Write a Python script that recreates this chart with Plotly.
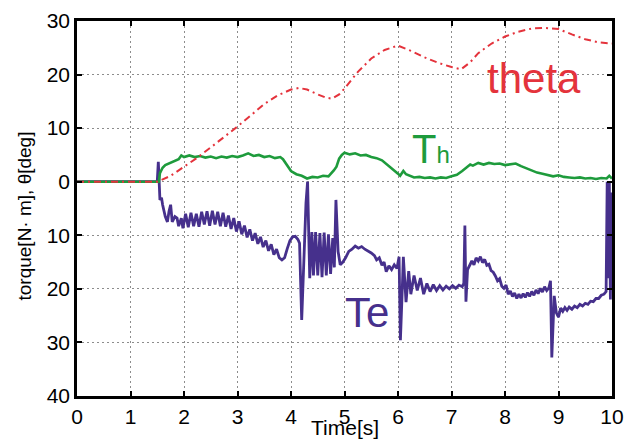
import plotly.graph_objects as go

# ---- data ----
te_t = [0, 1.5, 1.52, 1.535, 1.55, 1.58, 1.6, 1.65, 1.69, 1.72, 1.75, 1.78, 1.83, 1.87, 1.9, 1.95, 1.98,
        2.03, 2.08, 2.13, 2.18, 2.23, 2.28, 2.33, 2.38, 2.43, 2.48, 2.53, 2.58, 2.63, 2.68, 2.73, 2.78,
        2.83, 2.88, 2.93, 2.98, 3.03, 3.08, 3.13, 3.18, 3.23, 3.28, 3.33, 3.38, 3.43, 3.48, 3.53, 3.58,
        3.63, 3.68, 3.73, 3.78, 3.83, 3.88, 3.93, 3.98, 4.03, 4.08, 4.13, 4.16, 4.2, 4.24, 4.28, 4.31,
        4.33, 4.35, 4.39, 4.42, 4.46, 4.5, 4.54, 4.58, 4.62, 4.66, 4.7, 4.74, 4.78, 4.81, 4.84, 4.88,
        4.92, 4.97, 5.02, 5.08, 5.14, 5.2, 5.26, 5.32, 5.38, 5.44, 5.5, 5.56, 5.6, 5.65, 5.7, 5.74,
        5.78, 5.83, 5.88, 5.93, 5.98, 6.02, 6.045, 6.08, 6.1, 6.15, 6.2, 6.24, 6.3, 6.36, 6.42, 6.48,
        6.54, 6.6, 6.66, 6.72, 6.78, 6.84, 6.9, 6.96, 7.02, 7.08, 7.14, 7.2, 7.23, 7.25, 7.27, 7.3,
        7.34, 7.38, 7.42, 7.46, 7.5, 7.54, 7.58, 7.62, 7.66, 7.7, 7.74, 7.78, 7.82, 7.86, 7.9, 7.94,
        7.98, 8.02, 8.06, 8.1, 8.14, 8.18, 8.22, 8.26, 8.3, 8.34, 8.38, 8.42, 8.46, 8.5, 8.54, 8.58,
        8.62, 8.66, 8.7, 8.74, 8.78, 8.82, 8.85, 8.875, 8.92, 8.96, 9.0, 9.04, 9.08, 9.12, 9.16, 9.2,
        9.25, 9.3, 9.35, 9.4, 9.45, 9.5, 9.55, 9.6, 9.65, 9.7, 9.75, 9.8, 9.85, 9.89, 9.91, 9.93,
        9.95, 9.97, 9.99, 10.0]
te_v = [0, 0, 3.7, -1, -3.4, -3, -4.3, -6.5, -7.5, -5.5, -4.3, -7.5, -6.5, -6.8, -8.3, -6.8, -8.7,
        -6.0, -8.5, -5.8, -8.3, -6.0, -8.4, -5.6, -8.0, -5.5, -8.2, -5.4, -8.0, -5.6, -8.3, -5.8, -8.4,
        -6.3, -8.8, -6.8, -9.3, -7.4, -9.8, -8.2, -10.4, -8.9, -11.0, -9.6, -11.6, -10.3, -12.2, -11.0, -12.9,
        -11.7, -13.6, -12.6, -14.2, -14.6, -14.2, -12.5, -11.0, -10.3, -10.2, -10.8, -11.5, -25.8, -14, -4, 0,
        -8, -18, -9.4, -17.5, -9.4, -17.5, -9.6, -17.8, -9.5, -17.5, -9.8, -17.2, -10.5, -16, -3.4, -13,
        -15.5, -15.0, -14.2, -13.0, -12.6, -12.0, -12.4, -12.1, -12.6, -12.9, -13.3, -13.8, -14.6, -14.2, -15.6, -15.0,
        -16.8, -15.7, -16.4, -15.5, -16.2, -14, -29.6, -20, -14, -22.5, -16.7, -21, -17.5, -20.3, -18, -21,
        -19, -20.5, -19.2, -20.3, -19.4, -20.2, -19.5, -20.0, -19.4, -19.9, -19.3, -19.6, -19.0, -8.2, -22.4, -16.4,
        -15.6, -14.8, -15.5, -14.2, -14.8, -14.0, -15.1, -14.5, -15.6, -15.4, -16.6, -16.9, -17.6, -18.5, -18.1, -19.5,
        -19.9, -19.3, -21.0, -20.4, -21.4, -20.8, -21.8, -21.0, -21.7, -20.9, -21.6, -20.7, -21.4, -20.5, -21.2, -20.2,
        -20.9, -19.9, -20.6, -19.6, -20.3, -19.8, -18.5, -32.8, -21.3, -24.5, -25.3, -23.6, -24.2, -23.5, -24.0, -23.4,
        -23.8, -23.2, -23.5, -22.9, -23.2, -22.7, -22.9, -22.3, -22.4, -21.8, -21.8, -21.2, -21.0, -20.5, 0, -18,
        0, -22, -2, -20]

th_t = [0, 1.5, 1.53, 1.55, 1.6, 1.65, 1.7, 1.8, 1.9, 1.95, 2.0, 2.1, 2.2, 2.3, 2.4, 2.5, 2.6, 2.7, 2.8,
        2.9, 3.0, 3.1, 3.2, 3.3, 3.4, 3.5, 3.6, 3.7, 3.8, 3.85, 3.9, 3.95, 4.0, 4.1, 4.2, 4.3, 4.4, 4.5,
        4.6, 4.7, 4.75, 4.8, 4.85, 4.9, 4.95, 5.0, 5.1, 5.2, 5.3, 5.4, 5.5, 5.6, 5.7, 5.8, 5.9, 6.0,
        6.04, 6.1, 6.15, 6.22, 6.3, 6.4, 6.5, 6.6, 6.7, 6.8, 6.9, 7.0, 7.1, 7.2, 7.3, 7.35, 7.4, 7.5,
        7.6, 7.7, 7.8, 7.9, 8.0, 8.1, 8.2, 8.3, 8.4, 8.5, 8.6, 8.7, 8.8, 8.9, 9.0, 9.1, 9.2, 9.3, 9.4,
        9.5, 9.6, 9.7, 9.8, 9.9, 9.95, 10.0]
th_v = [0, 0, 0, 1.6, 2.6, 3.1, 3.3, 3.8, 4.2, 4.9, 4.6, 4.9, 4.6, 4.8, 4.5, 4.7, 4.4, 4.7, 4.5,
        4.8, 4.6, 4.9, 5.3, 4.8, 5.0, 4.6, 4.8, 4.4, 4.6, 4.2, 3.4, 2.6, 2.0, 1.4, 1.1, 0.6, 0.9, 0.8,
        1.1, 1.0, 1.5, 2.1, 2.8, 4.3, 5.0, 5.4, 5.1, 5.3, 4.9, 5.0, 4.6, 4.4, 4.0, 3.2, 2.3, 1.5,
        1.1, 2.0, 1.4, 1.1, 0.8, 0.9, 0.7, 0.8, 0.6, 0.8, 0.7, 1.0, 1.3, 2.0, 2.8, 3.2, 3.0, 3.5,
        3.2, 3.5, 3.3, 3.4, 3.1, 3.3, 3.4, 2.9, 2.5, 2.1, 1.7, 1.5, 1.2, 1.0, 1.2, 0.9, 0.8, 0.7, 0.8,
        0.6, 0.7, 0.5, 0.7, 0.6, 1.1, 0.6]

theta_t = [0, 1.5, 1.75, 2.0, 2.25, 2.5, 2.75, 3.0, 3.25, 3.5, 3.75, 4.0, 4.15, 4.3, 4.5, 4.65, 4.77,
           4.9, 5.0, 5.25, 5.5, 5.75, 6.0, 6.25, 6.5, 6.75, 7.0, 7.18, 7.35, 7.5, 7.75, 8.0, 8.25,
           8.5, 8.75, 9.0, 9.25, 9.5, 9.75, 10.0]
theta_v = [0, 0, 1.1, 2.8, 4.5, 6.4, 8.3, 10.3, 12.4, 14.5, 16.1, 17.2, 17.5, 17.2, 16.3, 15.7, 15.5,
           16.3, 17.4, 20.5, 23.0, 24.6, 25.4, 24.4, 23.2, 22.2, 21.4, 21.0, 22.3, 24.0, 25.8, 27.1, 28.0,
           28.6, 28.7, 28.5, 27.5, 26.6, 26.0, 25.8]

x_ticks = list(range(0, 11))
y_ticks = [-40, -30, -20, -10, 0, 10, 20, 30]
y_tick_text = ["40", "30", "20", "10", "0", "10", "20", "30"]

PURPLE = "#46308C"
GREEN = "#1E9B3C"
RED = "#E4333C"

fig = go.Figure()
fig.add_trace(go.Scatter(x=te_t, y=te_v, mode="lines",
                         line=dict(color=PURPLE, width=2.8), name="Te"))
fig.add_trace(go.Scatter(x=th_t, y=th_v, mode="lines",
                         line=dict(color=GREEN, width=2.6), name="Th"))
fig.add_trace(go.Scatter(x=theta_t, y=theta_v, mode="lines",
                         line=dict(color=RED, width=2, dash="7px,4px,2px,4px"), name="theta"))

font_main = "Liberation Sans, Arial, sans-serif"

fig.add_annotation(x=7.62, y=19.3, xref="x", yref="y", text="theta", showarrow=False,
                   xanchor="left", yanchor="middle",
                   font=dict(family=font_main, size=42, color=RED))
fig.add_annotation(x=6.22, y=6.2, xref="x", yref="y",
                   text="T<span style='font-size:24px'>h</span>", showarrow=False,
                   xanchor="left", yanchor="middle",
                   font=dict(family=font_main, size=40, color=GREEN))
fig.add_annotation(x=4.98, y=-24.5, xref="x", yref="y", text="Te", showarrow=False,
                   xanchor="left", yanchor="middle",
                   font=dict(family=font_main, size=42, color=PURPLE))

# axis titles
fig.add_annotation(x=0.5, y=-0.12, xref="paper", yref="paper", text="Time[s]",
                   showarrow=False, xanchor="center", yanchor="bottom",
                   font=dict(family=font_main, size=21, color="black"))
fig.add_annotation(x=-0.1, y=0.48, xref="paper", yref="paper", text="torque[N· m], θ[deg]",
                   showarrow=False, xanchor="center", yanchor="middle", textangle=-90,
                   font=dict(family=font_main, size=19, color="black"))

axis_common = dict(showline=True, linecolor="black", linewidth=2.5, mirror="ticks",
                   ticks="inside", ticklen=5, tickwidth=1.5, tickcolor="black",
                   showgrid=True, gridcolor="#8c8c8c", griddash="2px,3px", gridwidth=1,
                   zeroline=False, automargin=False,
                   tickfont=dict(family=font_main, size=21, color="black"))

fig.update_xaxes(range=[0, 10], tickvals=x_ticks, **axis_common)
fig.update_yaxes(range=[-40, 30], tickvals=y_ticks, ticktext=y_tick_text, **axis_common)

# the page body adds an 8px offset, so the figure is sized to compensate
fig.update_layout(width=629, height=435, margin=dict(l=69, r=25, t=13, b=47),
                  plot_bgcolor="white", paper_bgcolor="white", showlegend=False)

fig.write_html("out.html")
